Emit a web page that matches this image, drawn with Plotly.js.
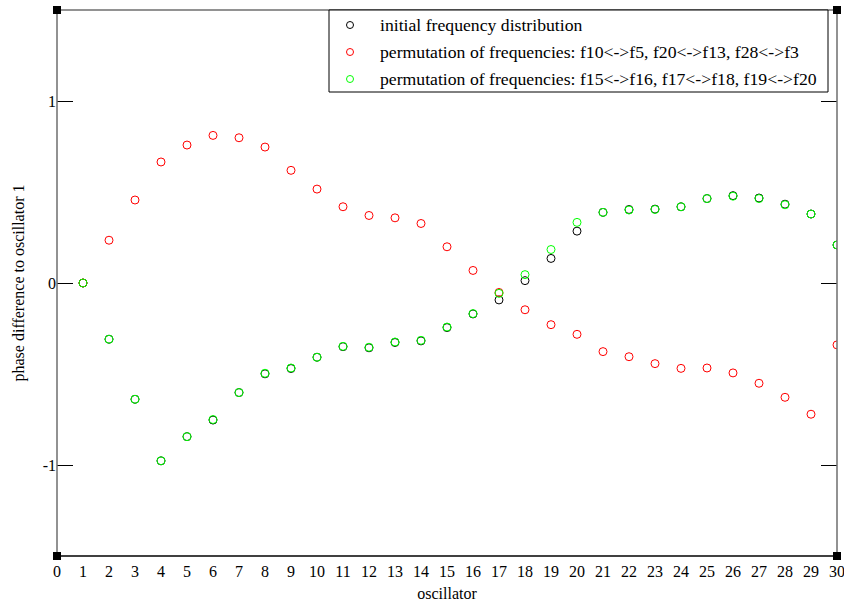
<!DOCTYPE html>
<html>
<head>
<meta charset="utf-8">
<script src="https://cdn.plot.ly/plotly-3.0.1.min.js"></script>
<style>
  html, body { margin: 0; padding: 0; background: #fff; }
  #chart { width: 844px; height: 603px; }
</style>
</head>
<body>
<div id="chart"></div>
<script>
// Oscillator index along the ring
const oscillators = [1,2,3,4,5,6,7,8,9,10,11,12,13,14,15,16,17,18,19,20,21,22,23,24,25,26,27,28,29,30];

// Phase difference to oscillator 1, initial frequency distribution
const phaseInitial = [0.000,-0.309,-0.639,-0.977,-0.844,-0.753,-0.602,-0.499,-0.470,-0.408,
                      -0.350,-0.356,-0.327,-0.318,-0.245,-0.170,-0.093,0.013,0.135,0.285,
                      0.388,0.404,0.406,0.419,0.464,0.480,0.467,0.433,0.379,0.209];

// Permutation f10<->f5, f20<->f13, f28<->f3
const phasePermA = [0.000,0.235,0.456,0.665,0.758,0.811,0.798,0.747,0.619,0.516,
                    0.419,0.371,0.358,0.327,0.199,0.069,-0.052,-0.147,-0.229,-0.282,
                    -0.377,-0.405,-0.443,-0.469,-0.467,-0.494,-0.551,-0.628,-0.721,-0.340];

// Permutation f15<->f16, f17<->f18, f19<->f20
const phasePermB = [0.000,-0.309,-0.639,-0.977,-0.844,-0.750,-0.602,-0.496,-0.467,-0.408,
                    -0.348,-0.353,-0.324,-0.315,-0.242,-0.168,-0.057,0.046,0.184,0.333,
                    0.388,0.401,0.404,0.419,0.464,0.477,0.464,0.430,0.379,0.209];

const seriesNames = [
  'initial frequency distribution',
  'permutation of frequencies: f10<->f5, f20<->f13, f28<->f3',
  'permutation of frequencies: f15<->f16, f17<->f18, f19<->f20'
];
const seriesColors = ['#000000', '#ff0000', '#00ff00'];

const xTickVals = [0,1,2,3,4,5,6,7,8,9,10,11,12,13,14,15,16,17,18,19,20,21,22,23,24,25,26,27,28,29,30];
const yTickVals = [-1, 0, 1];
const yTickText = ['-1', '0', '1'];

const serif = 'Liberation Serif, Times New Roman, serif';

// Plot-area geometry in pixels (used for the legend box and corner handles)
const W = 844, H = 603;
const M = { l: 57, r: 7, t: 10, b: 47 };
const PW = W - M.l - M.r, PH = H - M.t - M.b;
const px = x => (x - M.l) / PW;
const py = y => (H - M.b - y) / PH;

function ring(y, name, color) {
  return {
    x: oscillators, y: y, name: name, type: 'scatter', mode: 'markers',
    marker: { symbol: 'circle-open', size: 8, color: color, line: { width: 1, color: color } },
    hoverinfo: 'x+y'
  };
}

const traces = seriesNames.map((n, i) => ring([phaseInitial, phasePermA, phasePermB][i], n, seriesColors[i]));

// Small square handles at the frame corners
const corners = [[0, 0], [1, 0], [0, 1], [1, 1]];
const handleShapes = corners.map(c => ({
  type: 'rect', xref: 'paper', yref: 'paper', layer: 'above',
  x0: c[0] - 4 / PW, x1: c[0] + 4 / PW,
  y0: c[1] - 4 / PH, y1: c[1] + 4 / PH,
  fillcolor: '#000', line: { width: 0 }
}));

const frameShapes = [
  { type: 'line', xref: 'paper', yref: 'paper', x0: 0, x1: 1, y0: 1, y1: 1, line: { color: '#6e6e6e', width: 1.5 } },
  { type: 'line', xref: 'paper', yref: 'paper', x0: 0, x1: 0, y0: 0, y1: 1, line: { color: '#6e6e6e', width: 1.5 } },
  { type: 'line', xref: 'paper', yref: 'paper', x0: 1, x1: 1, y0: 0, y1: 1, line: { color: '#6e6e6e', width: 1.5 } },
  { type: 'line', xref: 'paper', yref: 'paper', x0: 0, x1: 1, y0: 0, y1: 0, line: { color: '#000', width: 1.5 } }
];

// Legend: framed box with open-circle keys and labels
const legendRows = [25, 52, 79];
const legendBox = {
  type: 'rect', xref: 'paper', yref: 'paper', layer: 'above',
  x0: px(329), x1: px(828), y0: py(92), y1: py(10),
  fillcolor: '#fff', line: { color: '#000', width: 1 }
};
const legendKeys = legendRows.map((r, i) => ({
  type: 'circle', xref: 'paper', yref: 'paper', layer: 'above',
  xsizemode: 'pixel', ysizemode: 'pixel',
  xanchor: px(350), yanchor: py(r),
  x0: -3.5, x1: 3.5, y0: -3.5, y1: 3.5,
  line: { color: seriesColors[i], width: 1 }
}));
const legendLabels = legendRows.map((r, i) => ({
  xref: 'paper', yref: 'paper', x: px(378), y: py(r),
  xanchor: 'left', yanchor: 'middle', showarrow: false,
  text: seriesNames[i], font: { family: serif, size: 17.7, color: '#000' }
}));

const layout = {
  width: W, height: H,
  margin: M,
  paper_bgcolor: '#fff', plot_bgcolor: '#fff',
  font: { family: serif, size: 16, color: '#000' },
  showlegend: false,
  xaxis: {
    range: [0, 30], tickmode: 'array', tickvals: xTickVals,
    ticks: '', showgrid: false, zeroline: false, showline: false,
    ticklabeloverflow: 'allow', ticklabelstandoff: 4,
    tickfont: { family: serif, size: 16 },
    title: { text: 'oscillator', font: { family: serif, size: 16 }, standoff: 8 }
  },
  yaxis: {
    range: [-1.5, 1.5], tickmode: 'array', tickvals: yTickVals, ticktext: yTickText,
    ticks: 'inside', ticklen: 16, tickwidth: 1, tickcolor: '#000',
    mirror: 'ticks', showline: false,
    showgrid: false, zeroline: false,
    tickfont: { family: serif, size: 16 },
    title: { text: 'phase difference to oscillator 1', font: { family: serif, size: 16 }, standoff: 14 }
  },
  shapes: frameShapes.concat([legendBox], legendKeys, handleShapes),
  annotations: legendLabels
};

Plotly.newPlot('chart', traces, layout, { displayModeBar: false, staticPlot: true });
</script>
</body>
</html>
